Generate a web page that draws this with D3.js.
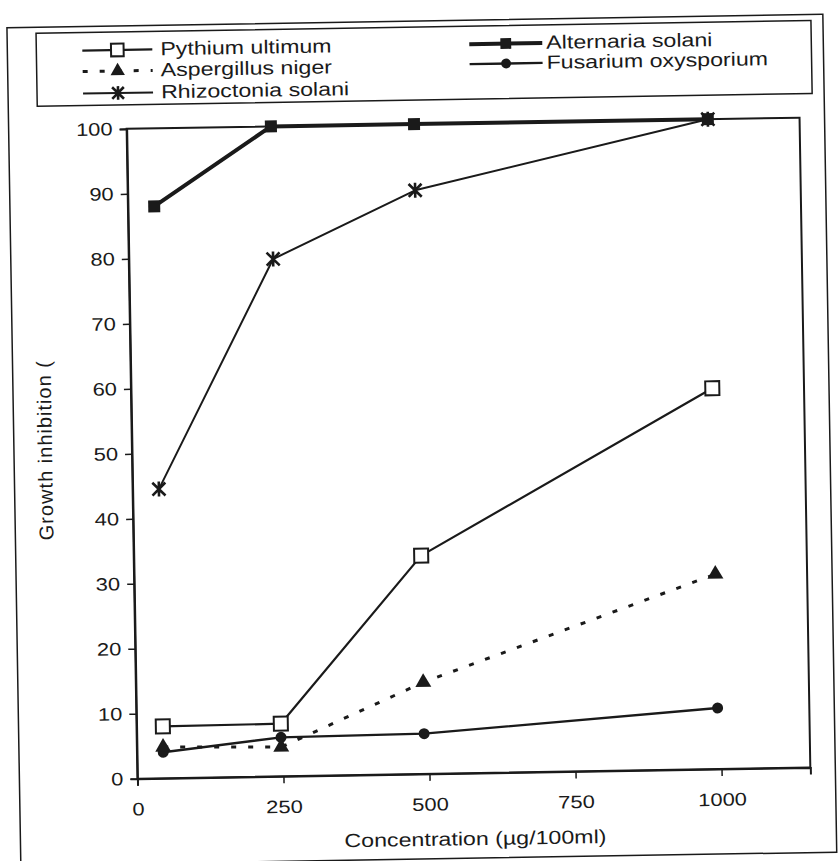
<!DOCTYPE html>
<html><head><meta charset="utf-8">
<script src="https://cdn.jsdelivr.net/npm/d3@7"></script>
<style>
html,body{margin:0;padding:0;background:#fff;}
svg{display:block;}
text{font-family:'Liberation Sans',Arial,sans-serif;fill:#1a1a1a;}
</style>
</head><body>
<svg id="c" width="839" height="861"></svg>
<script>
// ---- data ----
const concentrations = [45, 247, 492, 995];
const pythium     = [8.0, 8.1, 33.6, 58.6];
const aspergillus = [4.8, 4.5, 14.1, 30.0];
const rhizoctonia = [44.5, 79.6, 89.8, 100];
const alternaria  = [88.0, 100, 100, 100];
const fusarium    = [4.0, 6.0, 6.2, 9.4];
const xTickValues = [0, 250, 500, 750, 1000];
const yTickValues = [0, 10, 20, 30, 40, 50, 60, 70, 80, 90, 100];
const seriesNames = ["Pythium ultimum", "Aspergillus niger", "Rhizoctonia solani", "Alternaria solani", "Fusarium oxysporium"];
const xTitle = "Concentration (\u00b5g/100ml)";
const yTitle = "Growth inhibition (";

// ---- styling ----
const ink = "#1a1a1a";
const SX = 1.22; // horizontal glyph stretch seen in the scan
const series = [
  {name: seriesNames[0], values: pythium,     marker: "openSquare", width: 2.2, dash: null},
  {name: seriesNames[1], values: aspergillus, marker: "triangle",   width: 3,   dash: "5,12"},
  {name: seriesNames[2], values: rhizoctonia, marker: "star",       width: 2,   dash: null},
  {name: seriesNames[3], values: alternaria,  marker: "square",     width: 4,   dash: null},
  {name: seriesNames[4], values: fusarium,    marker: "circle",     width: 2.4, dash: null}
];

const svg = d3.select("#c");
const root = svg.append("g").attr("transform", "rotate(-0.95,420,450)");

// outer frame
root.append("rect").attr("x", 14).attr("y", 21).attr("width", 816).attr("height", 838)
  .attr("fill", "none").attr("stroke", ink).attr("stroke-width", 1.5);

const L = 132, R = 805, T = 124, B = 774;
const x = d3.scaleLinear().domain([0, 1152]).range([L, R]);
const y = d3.scaleLinear().domain([0, 100]).range([B, T]);

// plot box
root.append("rect").attr("x", L).attr("y", T).attr("width", R - L).attr("height", B - T)
  .attr("fill", "none").attr("stroke", ink).attr("stroke-width", 2);

// axes
const yAxis = root.append("g").attr("transform", `translate(${L},0)`)
  .call(d3.axisLeft(y).tickValues(yTickValues).tickSize(7).tickFormat(d3.format("d")));
yAxis.select(".domain").attr("stroke", ink).attr("stroke-width", 2);
yAxis.selectAll(".tick line").attr("stroke", ink).attr("stroke-width", 1.5);
yAxis.selectAll(".tick text").attr("x", -14 / SX).attr("transform", `scale(${SX},1)`)
  .attr("font-size", 18).attr("fill", ink);

const xAxis = root.append("g").attr("transform", `translate(0,${B})`)
  .call(d3.axisBottom(x).tickValues(xTickValues).tickSize(7).tickFormat(d3.format("d")));
xAxis.select(".domain").attr("stroke", ink).attr("stroke-width", 2);
xAxis.selectAll(".tick line").attr("stroke", ink).attr("stroke-width", 1.5);
xAxis.selectAll(".tick text").attr("y", 24).attr("transform", `scale(${SX},1)`)
  .attr("font-size", 18).attr("fill", ink);

// axis titles
root.append("text").attr("transform", `translate(469,846) scale(${SX},1)`)
  .attr("text-anchor", "middle").attr("font-size", 19).text(xTitle);
root.append("text").attr("transform", "translate(52,444) rotate(-90)")
  .attr("text-anchor", "middle").attr("font-size", 20).attr("letter-spacing", 1).text(yTitle);

// markers
function drawMarker(g, type, cx, cy, scale) {
  const s = scale || 1;
  if (type === "openSquare") {
    g.append("rect").attr("x", cx - 7 * s).attr("y", cy - 7 * s).attr("width", 14 * s).attr("height", 14 * s)
      .attr("fill", "#fff").attr("stroke", ink).attr("stroke-width", 2);
  } else if (type === "square") {
    g.append("rect").attr("x", cx - 6 * s).attr("y", cy - 6 * s).attr("width", 12 * s).attr("height", 12 * s)
      .attr("fill", ink);
  } else if (type === "triangle") {
    g.append("path").attr("transform", `translate(${cx},${cy})`)
      .attr("d", d3.symbol(d3.symbolTriangle, 110 * s * s)()).attr("fill", ink);
  } else if (type === "circle") {
    g.append("circle").attr("cx", cx).attr("cy", cy).attr("r", 5.5 * s).attr("fill", ink);
  } else if (type === "star") {
    const a = 6.5 * s;
    g.append("path").attr("d",
      `M${cx - a},${cy - a}L${cx + a},${cy + a}M${cx - a},${cy + a}L${cx + a},${cy - a}M${cx},${cy - a - 1}L${cx},${cy + a + 1}`)
      .attr("stroke", ink).attr("stroke-width", 2.6).attr("fill", "none");
  }
}

// series lines and markers
const line = d3.line().x((d, i) => x(concentrations[i])).y(d => y(d));
const drawOrder = [4, 1, 0, 2, 3];
drawOrder.forEach(k => {
  const s = series[k];
  const g = root.append("g");
  g.append("path").attr("d", line(s.values)).attr("fill", "none").attr("stroke", ink)
    .attr("stroke-width", s.width).attr("stroke-dasharray", s.dash).attr("stroke-linejoin", "round");
  s.values.forEach((v, i) => drawMarker(g, s.marker, x(concentrations[i]), y(v)));
});

// legend
root.append("rect").attr("x", 43).attr("y", 27).attr("width", 775).attr("height", 73)
  .attr("fill", "#fff").attr("stroke", ink).attr("stroke-width", 1.5);
const legendPos = [
  {x0: 89, x1: 159, tx: 167, y: 45},
  {x0: 89, x1: 159, tx: 167, y: 66},
  {x0: 89, x1: 159, tx: 167, y: 88},
  {x0: 476, x1: 549, tx: 553, y: 45},
  {x0: 476, x1: 549, tx: 553, y: 65}
];
series.forEach((s, k) => {
  const p = legendPos[k];
  const g = root.append("g");
  g.append("line").attr("x1", p.x0).attr("x2", p.x1).attr("y1", p.y).attr("y2", p.y)
    .attr("stroke", ink).attr("stroke-width", s.width).attr("stroke-dasharray", s.dash);
  drawMarker(g, s.marker, (p.x0 + p.x1) / 2, p.y, 0.9);
  g.append("text").attr("transform", `translate(${p.tx},${p.y + 6}) scale(${SX},1)`)
    .attr("font-size", 19).text(s.name);
});
</script>
</body></html>
